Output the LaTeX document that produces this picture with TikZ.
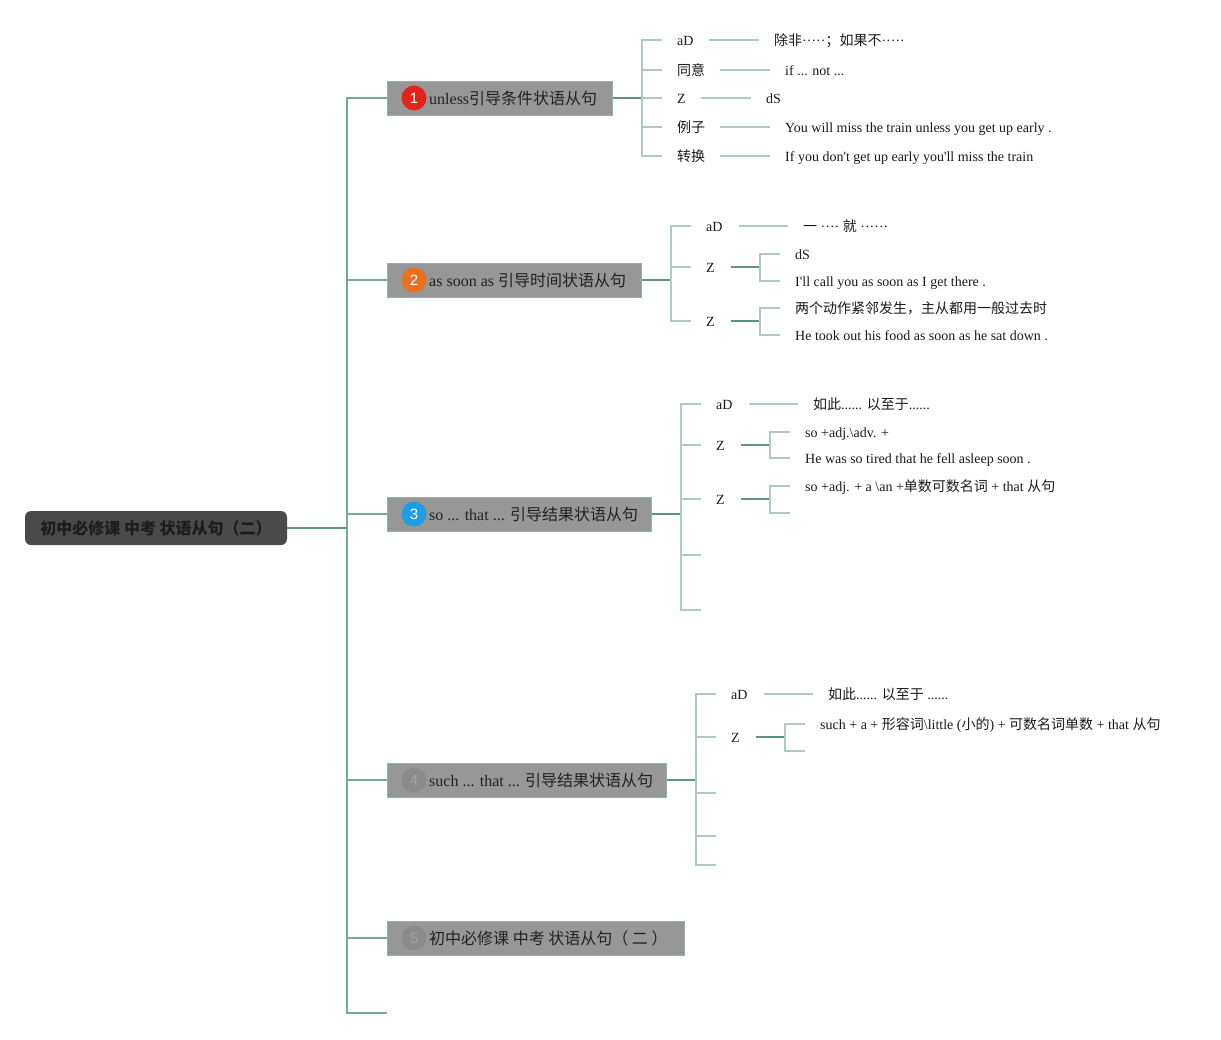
\documentclass[tikz,border=0pt]{standalone}
\usepackage{fontspec}
\setmainfont{Liberation Serif}[Ligatures=TeXOff]
\newfontfamily\zhfont{Noto Sans CJK SC}
\newfontfamily\numfont{Liberation Sans}
\newcommand\zhl[1]{{\zhfont #1}}
\newcommand\zhb[1]{{\zhfont #1}}
\definecolor{rootfill}{HTML}{4A4A4A}
\definecolor{roottext}{HTML}{1C1C1C}
\definecolor{brfill}{HTML}{979797}
\definecolor{brborder}{HTML}{8DB5A8}
\definecolor{brtext}{HTML}{222222}
\definecolor{leaftext}{HTML}{1A1A1A}
\definecolor{darkline}{HTML}{5F9484}
\definecolor{spline}{HTML}{78A898}
\definecolor{lightline}{HTML}{AECAC2}
\definecolor{cred}{HTML}{E3241B}
\definecolor{corange}{HTML}{E8701E}
\definecolor{cblue}{HTML}{1E9DE3}
\definecolor{cgray}{HTML}{8A8A8A}
\definecolor{cgraytext}{HTML}{A4A4A4}
\begin{document}
\begin{tikzpicture}[x=1pt,y=-1pt,
  rootbox/.style={rectangle, rounded corners=6pt, fill=rootfill, minimum width=262pt, minimum height=34pt, inner sep=0pt, font=\fontsize{16}{18}\selectfont\zhfont\bfseries, text=roottext},
  branchbox/.style={rectangle, fill=brfill, draw=brborder, line width=1pt, minimum height=34pt, inner sep=0pt, anchor=west},
  blabel/.style={anchor=west, inner sep=0pt, font=\fontsize{16}{18}\selectfont, text=brtext},
  numc/.style={circle, inner sep=0pt, minimum size=25pt, font=\numfont\fontsize{15}{17}\selectfont, text=white},
  leaf/.style={anchor=west, inner sep=0pt, text height=12pt, text depth=1pt, font=\fontsize{14}{16}\selectfont, text=leaftext},
  dk/.style={draw=darkline, line width=1.5pt},
  lt/.style={draw=lightline, line width=1.2pt},
  spn/.style={draw=spline, line width=1.4pt}
]
\useasboundingbox (0,0) rectangle (1221,1039);

% root and spine
\node[rootbox] (root) at (156,528) {初中必修课 中考 状语从句（二）};
\coordinate (sp) at (347,528);
\draw[dk] (root.east) -- (sp);

\node[branchbox, minimum width=225pt] (b1) at (387,98) {};
\node[branchbox, minimum width=254pt] (b2) at (387,280) {};
\node[branchbox, minimum width=264pt] (b3) at (387,514) {};
\node[branchbox, minimum width=279pt] (b4) at (387,780) {};
\node[branchbox, minimum width=297pt] (b5) at (387,938) {};
\coordinate (b6) at (387,1013);
\foreach \b in {b1,b2,b3,b4,b5} {\draw[spn] (sp) |- (\b.west);}
\draw[spn] (sp) |- (b6);

\node[numc, fill=cred] (n1) at (414,98) {1};
\node[numc, fill=corange] (n2) at (414,280) {2};
\node[numc, fill=cblue] (n3) at (414,514) {3};
\node[numc, fill=cgray, text=cgraytext] (n4) at (414,780) {4};
\node[numc, fill=cgray, text=cgraytext] (n5) at (414,938) {5};

\node[blabel] (t1) at (429,98) {unless\zhb{引导条件状语从句}};
\node[blabel] (t2) at (429,280) {as soon as \zhb{引导时间状语从句}};
\node[blabel] (t3) at (429,514) {so ... that ... \zhb{引导结果状语从句}};
\node[blabel] (t4) at (429,780) {such ... that ... \zhb{引导结果状语从句}};
\node[blabel] (t5) at (429,938) {\zhb{初中必修课 中考 状语从句（ 二 ）}};

% ---------- branch 1
\coordinate (j1) at (642,98);
\draw[dk] (b1.east) -- (j1);
\node[leaf] (a1) at (677,40) {aD};
\node[leaf] (a2) at (677,70) {\zhl{同意}};
\node[leaf] (a3) at (677,98) {Z};
\node[leaf] (a4) at (677,127) {\zhl{例子}};
\node[leaf] (a5) at (677,156) {\zhl{转换}};
\foreach \a in {a1,a2,a3,a4,a5} {\draw[lt, shorten >=15pt] (j1) |- (\a.west);}
\node[leaf] (v1) at (774,40) {\zhl{除非}·····\zhl{；如果不}·····};
\node[leaf] (v2) at (785,70) {if ... not ...};
\node[leaf] (v3) at (766,98) {dS};
\node[leaf] (v4) at (785,127) {You will miss the train unless you get up early .};
\node[leaf] (v5) at (785,156) {If you don't get up early you'll miss the train};
\foreach \a/\v in {a1/v1,a2/v2,a3/v3,a4/v4,a5/v5} {\draw[lt, shorten <=15pt, shorten >=15pt] (\a.east) -- (\v.west);}

% ---------- branch 2
\coordinate (j2) at (671,280);
\draw[dk] (b2.east) -- (j2);
\node[leaf] (c1) at (706,226) {aD};
\node[leaf] (c2) at (706,267) {Z};
\node[leaf] (c3) at (706,321) {Z};
\foreach \a in {c1,c2,c3} {\draw[lt, shorten >=15pt] (j2) |- (\a.west);}
\node[leaf] (w1) at (803,226) {\zhl{一} ···· \zhl{就} ······};
\draw[lt, shorten <=16pt, shorten >=15pt] (c1.east) -- (w1.west);
\coordinate (k2) at (760,267);
\draw[dk, shorten <=16pt] (c2.east) -- (k2);
\node[leaf] (w2a) at (795,254) {dS};
\node[leaf] (w2b) at (795,281) {I'll call you as soon as I get there .};
\draw[lt, shorten >=15pt] (k2) |- (w2a.west);
\draw[lt, shorten >=15pt] (k2) |- (w2b.west);
\coordinate (k3) at (760,321);
\draw[dk, shorten <=16pt] (c3.east) -- (k3);
\node[leaf] (w3a) at (795,308) {\zhl{两个动作紧邻发生，主从都用一般过去时}};
\node[leaf] (w3b) at (795,335) {He took out his food as soon as he sat down .};
\draw[lt, shorten >=15pt] (k3) |- (w3a.west);
\draw[lt, shorten >=15pt] (k3) |- (w3b.west);

% ---------- branch 3
\coordinate (j3) at (681,514);
\draw[dk] (b3.east) -- (j3);
\node[leaf] (d1) at (716,404) {aD};
\node[leaf] (d2) at (716,445) {Z};
\node[leaf] (d3) at (716,499) {Z};
\coordinate (d4) at (716,555);
\coordinate (d5) at (716,610);
\foreach \a in {d1,d2,d3} {\draw[lt, shorten >=15pt] (j3) |- (\a.west);}
\foreach \a in {d4,d5} {\draw[lt, shorten >=15pt] (j3) |- (\a);}
\node[leaf] (x1) at (813,404) {\zhl{如此}...... \zhl{以至于}......};
\draw[lt, shorten <=16pt, shorten >=15pt] (d1.east) -- (x1.west);
\coordinate (k4) at (770,445);
\draw[dk, shorten <=16pt] (d2.east) -- (k4);
\node[leaf] (x2a) at (805,432) {so +adj.\textbackslash adv. +};
\node[leaf] (x2b) at (805,458) {He was so tired that he fell asleep soon .};
\draw[lt, shorten >=15pt] (k4) |- (x2a.west);
\draw[lt, shorten >=15pt] (k4) |- (x2b.west);
\coordinate (k5) at (770,499);
\draw[dk, shorten <=16pt] (d3.east) -- (k5);
\node[leaf] (x3a) at (805,486) {so +adj. + a \textbackslash an +\zhl{单数可数名词} + that \zhl{从句}};
\coordinate (x3b) at (805,513);
\draw[lt, shorten >=15pt] (k5) |- (x3a.west);
\draw[lt, shorten >=15pt] (k5) |- (x3b);

% ---------- branch 4
\coordinate (j4) at (696,780);
\draw[dk] (b4.east) -- (j4);
\node[leaf] (f1) at (731,694) {aD};
\node[leaf] (f2) at (731,737) {Z};
\coordinate (f3) at (731,793);
\coordinate (f4) at (731,836);
\coordinate (f5) at (731,865);
\foreach \a in {f1,f2} {\draw[lt, shorten >=15pt] (j4) |- (\a.west);}
\foreach \a in {f3,f4,f5} {\draw[lt, shorten >=15pt] (j4) |- (\a);}
\node[leaf] (y1) at (828,694) {\zhl{如此}...... \zhl{以至于} ......};
\draw[lt, shorten <=16pt, shorten >=15pt] (f1.east) -- (y1.west);
\coordinate (k6) at (785,737);
\draw[dk, shorten <=16pt] (f2.east) -- (k6);
\node[leaf] (y2a) at (820,724) {such + a + \zhl{形容词}\textbackslash little (\zhl{小的}) + \zhl{可数名词单数} + that \zhl{从句}};
\coordinate (y2b) at (820,751);
\draw[lt, shorten >=15pt] (k6) |- (y2a.west);
\draw[lt, shorten >=15pt] (k6) |- (y2b);
\end{tikzpicture}
\end{document}
